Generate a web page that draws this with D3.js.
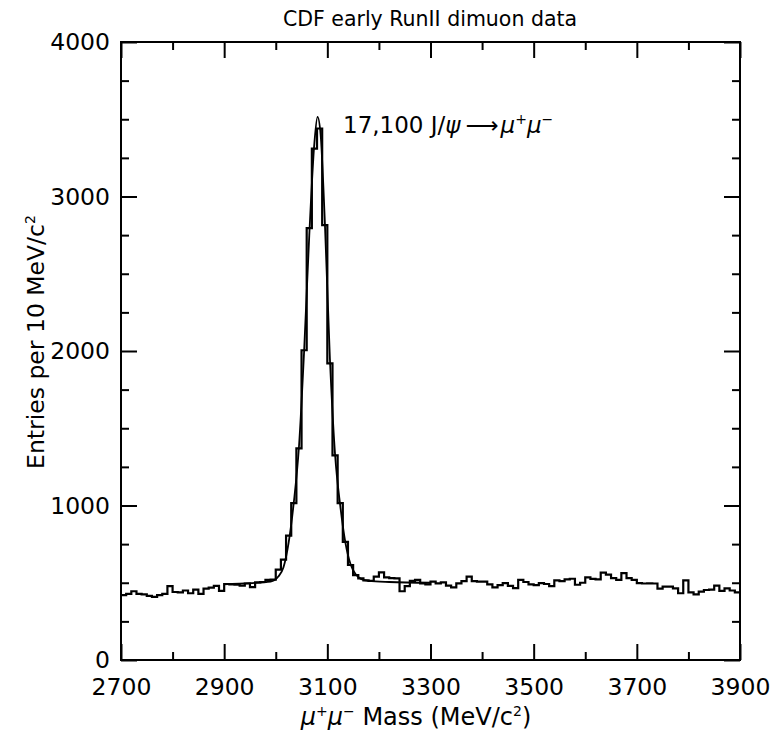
<!DOCTYPE html>
<html>
<head>
<meta charset="utf-8">
<script src="https://cdn.jsdelivr.net/npm/d3@7"></script>
<style>
body { margin: 0; background: #fff; }
text { font-family: "DejaVu Sans", sans-serif; fill: #000; }
</style>
</head>
<body>
<svg id="chart" width="774" height="733"></svg>
<script>
// dimuon mass histogram, 10 MeV bins from 2700 to 3900
var binStart = 2700;
var binWidth = 10;
var counts = [
  420, 428, 445, 428, 425, 415, 408, 420, 428, 478,
  440, 438, 450, 432, 455, 428, 462, 468, 480, 448,
  492, 490, 488, 482, 495, 472, 502, 505, 518, 520,
  585, 650, 805, 1015, 1370, 2005, 2795, 3310, 3440, 2815,
  1920, 1325, 1015, 765, 615, 550, 528, 515, 512, 540,
  567, 535, 530, 528, 445, 478, 512, 518, 496, 490,
  507, 496, 503, 481, 470, 496, 511, 539, 511, 507,
  507, 490, 470, 485, 498, 480, 465, 518, 505, 490,
  485, 498, 492, 478, 515, 510, 522, 526, 487, 500,
  535, 525, 522, 565, 552, 530, 518, 562, 530, 518,
  498, 495, 496, 495, 462, 475, 475, 464, 432, 515,
  438, 425, 442, 453, 455, 482, 448, 464, 450, 438
];

// fitted curve
var fitMass = [2900, 2950, 2990, 3005, 3015, 3025, 3035, 3045, 3055, 3065, 3075, 3081, 3087, 3095, 3105, 3115, 3125, 3135, 3145, 3155, 3165, 3180, 3220, 3300];
var fitVals = [490, 497, 507, 540, 600, 760, 1020, 1380, 2000, 2750, 3350, 3515, 3400, 2850, 1950, 1330, 1000, 760, 620, 555, 525, 512, 505, 500];

var xMajor = [2700, 2900, 3100, 3300, 3500, 3700, 3900];
var xMinor = [2800, 3000, 3200, 3400, 3600, 3800];
var yMajor = [0, 1000, 2000, 3000, 4000];
var yMinor = [250, 500, 750, 1250, 1500, 1750, 2250, 2500, 2750, 3250, 3500, 3750];

var L = 121, R = 740, T = 42, B = 660;

var svg = d3.select("#chart");

var x = d3.scaleLinear().domain([2700, 3900]).range([L, R]);
var y = d3.scaleLinear().domain([0, 4000]).range([B, T]);

// axes: ticks point inwards
function styleAxis(g) {
  g.select(".domain").remove();
  g.selectAll(".tick line").attr("stroke", "#000").attr("stroke-width", 2);
  g.selectAll(".tick text").style("font-size", "23.5px").style("font-family", "DejaVu Sans, sans-serif").attr("fill", "#000");
}

svg.append("g").attr("transform", "translate(0," + B + ")")
  .call(d3.axisBottom(x).tickValues(xMajor).tickSizeInner(-16).tickSizeOuter(0).tickPadding(18).tickFormat(d3.format("d")))
  .call(styleAxis);
svg.append("g").attr("transform", "translate(0," + B + ")")
  .call(d3.axisBottom(x).tickValues(xMinor).tickSizeInner(-8).tickSizeOuter(0).tickFormat(""))
  .call(styleAxis);
svg.append("g").attr("transform", "translate(0," + T + ")")
  .call(d3.axisTop(x).tickValues(xMajor).tickSizeInner(-16).tickSizeOuter(0).tickFormat(""))
  .call(styleAxis);
svg.append("g").attr("transform", "translate(0," + T + ")")
  .call(d3.axisTop(x).tickValues(xMinor).tickSizeInner(-8).tickSizeOuter(0).tickFormat(""))
  .call(styleAxis);

svg.append("g").attr("transform", "translate(" + L + ",0)")
  .call(d3.axisLeft(y).tickValues(yMajor).tickSizeInner(-16).tickSizeOuter(0).tickPadding(11).tickFormat(d3.format("d")))
  .call(styleAxis);
svg.append("g").attr("transform", "translate(" + L + ",0)")
  .call(d3.axisLeft(y).tickValues(yMinor).tickSizeInner(-8).tickSizeOuter(0).tickFormat(""))
  .call(styleAxis);
svg.append("g").attr("transform", "translate(" + R + ",0)")
  .call(d3.axisRight(y).tickValues(yMajor).tickSizeInner(-16).tickSizeOuter(0).tickFormat(""))
  .call(styleAxis);
svg.append("g").attr("transform", "translate(" + R + ",0)")
  .call(d3.axisRight(y).tickValues(yMinor).tickSizeInner(-8).tickSizeOuter(0).tickFormat(""))
  .call(styleAxis);

// frame
svg.append("rect")
  .attr("x", L).attr("y", T)
  .attr("width", R - L).attr("height", B - T)
  .attr("fill", "none").attr("stroke", "#000").attr("stroke-width", 2);

// histogram as a step line
var steps = [];
counts.forEach(function (c, i) {
  var m0 = binStart + i * binWidth;
  steps.push([m0, c]);
  steps.push([m0 + binWidth, c]);
});
var line = d3.line().x(function (d) { return x(d[0]); }).y(function (d) { return y(d[1]); });
svg.append("path")
  .datum(steps)
  .attr("d", line)
  .attr("fill", "none").attr("stroke", "#000").attr("stroke-width", 2.2)
  .attr("stroke-linejoin", "miter");

// fit
var fitPts = fitMass.map(function (m, i) { return [m, fitVals[i]]; });
svg.append("path")
  .datum(fitPts)
  .attr("d", line.curve(d3.curveMonotoneX))
  .attr("fill", "none").attr("stroke", "#000").attr("stroke-width", 1.8);

// title
svg.append("text")
  .attr("x", 430).attr("y", 26)
  .attr("text-anchor", "middle")
  .style("font-size", "20.5px")
  .text("CDF early RunII dimuon data");

// annotation
var ann = svg.append("text")
  .attr("x", 343).attr("y", 133)
  .style("font-size", "23px");
ann.append("tspan").text("17,100 J/");
ann.append("tspan").style("font-style", "italic").text("\u03c8");
ann.append("tspan").attr("dx", 5).text("\u27f6");
ann.append("tspan").attr("dx", 2).style("font-style", "italic").text("\u03bc");
ann.append("tspan").attr("dy", -9).style("font-size", "14px").text("+");
ann.append("tspan").attr("dy", 9).style("font-style", "italic").text("\u03bc");
ann.append("tspan").attr("dy", -9).style("font-size", "14px").text("\u2212");

// x label
var xl = svg.append("text")
  .attr("x", 416).attr("y", 725)
  .attr("text-anchor", "middle")
  .style("font-size", "24px");
xl.append("tspan").style("font-style", "italic").text("\u03bc");
xl.append("tspan").attr("dy", -9).style("font-size", "14px").text("+");
xl.append("tspan").attr("dy", 9).style("font-style", "italic").text("\u03bc");
xl.append("tspan").attr("dy", -9).style("font-size", "14px").text("\u2212");
xl.append("tspan").attr("dy", 9).text(" Mass (MeV/c");
xl.append("tspan").attr("dy", -9).style("font-size", "14px").text("2");
xl.append("tspan").attr("dy", 9).text(")");

// y label
var yl = svg.append("text")
  .attr("transform", "translate(44,342) rotate(-90)")
  .attr("text-anchor", "middle")
  .style("font-size", "23.5px");
yl.append("tspan").text("Entries per 10 MeV/c");
yl.append("tspan").attr("dy", -9).style("font-size", "14px").text("2");
</script>
</body>
</html>
